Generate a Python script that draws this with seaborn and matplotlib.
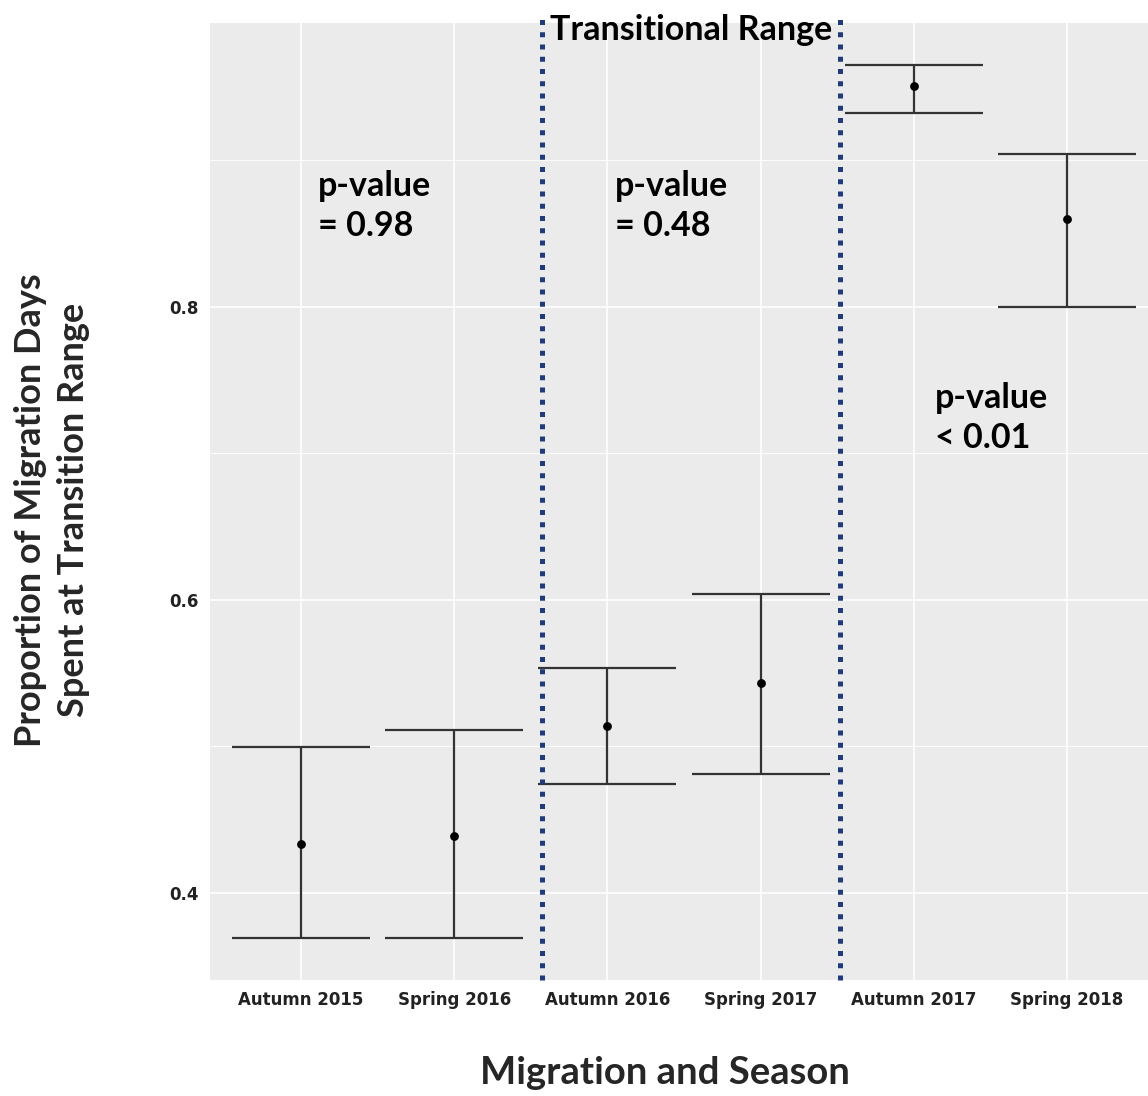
import numpy as np
import pandas as pd
import matplotlib
matplotlib.use("Agg")
import matplotlib.pyplot as plt
from matplotlib.ticker import FixedLocator
import seaborn as sns

# ---- data ----
seasons = ["Autumn 2015", "Spring 2016", "Autumn 2016",
           "Spring 2017", "Autumn 2017", "Spring 2018"]
mean_prop = [0.4335, 0.4390, 0.5140, 0.5430, 0.9505, 0.8597]
lower_ci = [0.3692, 0.3692, 0.4745, 0.4814, 0.9320, 0.7996]
upper_ci = [0.4998, 0.5115, 0.5538, 0.6038, 0.9650, 0.9046]
y_ticks = [0.4, 0.6, 0.8]
y_minor = [0.5, 0.7, 0.9]
range_bounds = [1.57, 3.52]          # transitional-range boundaries (category units)
p_labels = ["p-value\n= 0.98", "p-value\n= 0.48", "p-value\n< 0.01"]

df = pd.DataFrame({"season": seasons, "mean": mean_prop,
                   "lower": lower_ci, "upper": upper_ci})

sns.set_style("darkgrid", {"axes.facecolor": "#EBEBEB", "grid.color": "white",
                           "axes.edgecolor": "#EBEBEB"})
plt.rcParams["font.family"] = ["DejaVu Sans"]

W, H = 1148, 1096
fig = plt.figure(figsize=(W / 100, H / 100), dpi=100)
ax = fig.add_axes([210 / W, 1 - 980 / H, (W - 210) / W, (980 - 23) / H])

xpos = np.arange(len(seasons))
# error bars
ax.vlines(xpos, df["lower"], df["upper"], color="#333333", lw=1.6, zorder=2)
ax.hlines(df["lower"], xpos - 0.45, xpos + 0.45, color="#333333", lw=1.6, zorder=2)
ax.hlines(df["upper"], xpos - 0.45, xpos + 0.45, color="#333333", lw=1.6, zorder=2)
# means
sns.scatterplot(data=df, x="season", y="mean", color="black", s=40,
                edgecolor="black", linewidth=0, ax=ax, zorder=3, legend=False)

ax.set_xlim(-0.594, 5.529)
ax.set_ylim(0.3406, 0.9937)
ax.set_yticks(y_ticks)
ax.set_yticklabels([f"{v:.1f}" for v in y_ticks])
ax.yaxis.set_minor_locator(FixedLocator(y_minor))
ax.set_xticks(xpos)
ax.set_xticklabels(seasons)
ax.grid(which="major", color="white", lw=1.2)
ax.grid(which="minor", axis="y", color="white", lw=0.6)
ax.set_axisbelow(True)
ax.tick_params(axis="both", which="major", length=4, width=0.9, color="#555555",
               labelsize=12, labelcolor="#222222", pad=4)
ax.tick_params(which="minor", length=0)
for lab in ax.get_xticklabels() + ax.get_yticklabels():
    lab.set_fontweight("bold")
for s in ax.spines.values():
    s.set_visible(False)
ax.set_xlabel("")
ax.set_ylabel("")

# transitional range boundaries
for xb in range_bounds:
    ax.axvline(xb, ymin=0, ymax=1.0105, clip_on=False, color="#1F3B7D",
               lw=3.6, linestyle=(0, (1, 1.45)), dash_capstyle="butt", zorder=4)

ann_font = ["Lato", "DejaVu Sans"]
ax.text(np.mean(range_bounds), 0.9927, "Transitional Range",
        transform=ax.get_xaxis_transform(), ha="center", va="center",
        fontsize=24.5, fontweight="bold", family=ann_font, color="black", zorder=5)

p_pos = [(0.11, 0.8933), (2.05, 0.8933), (4.14, 0.7486)]
for (px, py), lab in zip(p_pos, p_labels):
    ax.text(px, py, lab, ha="left", va="top", fontsize=24.5, fontweight="bold",
            family=ann_font, linespacing=1.3, color="black", zorder=5)

fig.text(52 / W, 1 - 510 / H, "Proportion of Migration Days\nSpent at Transition Range",
         rotation=90, ha="center", va="center", multialignment="center",
         fontsize=26, fontweight="bold", family=ann_font, linespacing=1.35)
fig.text(665 / W, 1 - 1073 / H, "Migration and Season", ha="center", va="center",
         fontsize=27.5, fontweight="bold", family=ann_font)

fig.savefig("out.png", dpi=100)
